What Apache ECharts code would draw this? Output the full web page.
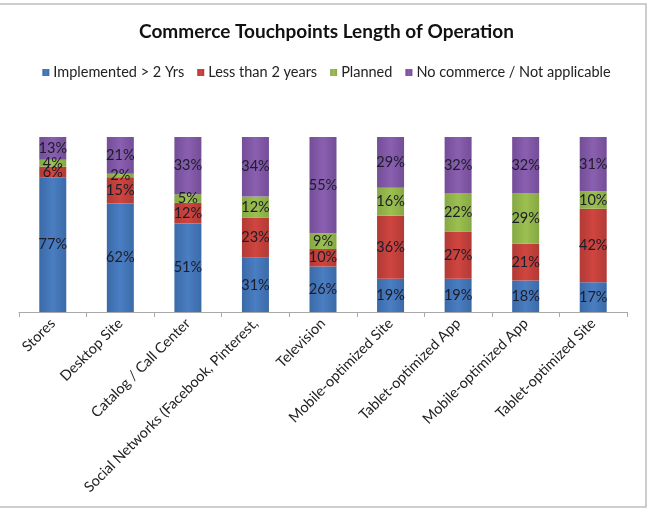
<!DOCTYPE html>
<html lang="en">
<head>
    <meta charset="UTF-8">
    <title>Commerce Touchpoints</title>
    <script type="text/javascript" src="https://cdn.jsdelivr.net/npm/echarts@6/dist/echarts.min.js"></script>
    <style>
        html, body { margin: 0; padding: 0; background: #fff; }
        #main { width: 653px; height: 510px; }
    </style>
</head>
<body>
<div id="main"></div>
<script type="text/javascript">
    // categories and values (percent)
    var categories = ['Stores', 'Desktop Site', 'Catalog / Call Center', 'Social Networks (Facebook, Pinterest,',
        'Television', 'Mobile-optimized Site', 'Tablet-optimized App', 'Mobile-optimized App', 'Tablet-optimized Site'];
    var implemented = [77, 62, 51, 31, 26, 19, 19, 18, 17];
    var lessThan2 = [6, 15, 12, 23, 10, 36, 27, 21, 42];
    var planned = [4, 2, 5, 12, 9, 16, 22, 29, 10];
    var noCommerce = [13, 21, 33, 34, 55, 29, 32, 32, 31];

    var seriesNames = ['Implemented > 2 Yrs', 'Less than 2 years', 'Planned', 'No commerce / Not applicable'];
    var seriesData = [implemented, lessThan2, planned, noCommerce];
    var baseColors = ['#4a7ec2', '#d0453f', '#9cc050', '#8a5fb0'];
    var edgeColors = ['#3b6aa8', '#b23a35', '#86a844', '#744e98'];

    // totals per category so every bar fills 100%
    var totals = categories.map(function (c, i) {
        var s = 0;
        for (var k = 0; k < seriesData.length; k++) s += seriesData[k][i];
        return s;
    });

    var myChart = echarts.init(document.getElementById('main'));

    var series = seriesNames.map(function (name, k) {
        return {
            name: name,
            type: 'bar',
            stack: 'total',
            barWidth: 27,
            data: seriesData[k].map(function (v, i) {
                return v / totals[i] * 100;
            }),
            itemStyle: {
                color: new echarts.graphic.LinearGradient(0, 0, 1, 0, [
                    { offset: 0, color: edgeColors[k] },
                    { offset: 0.5, color: baseColors[k] },
                    { offset: 1, color: edgeColors[k] }
                ])
            },
            label: {
                show: true,
                position: 'inside',
                color: '#1c1c2a',
                fontFamily: 'Lato',
                fontSize: 14.5,
                formatter: function (p) { return seriesData[k][p.dataIndex] + '%'; }
            }
        };
    });

    var option = {
        animation: false,
        color: baseColors,
        title: {
            text: 'Commerce Touchpoints Length of Operation',
            left: 'center',
            top: 17,
            textStyle: { fontFamily: 'Lato', fontSize: 19, fontWeight: 'bold', color: '#111' }
        },
        legend: {
            data: seriesNames,
            top: 60,
            left: 'center',
            itemWidth: 7,
            itemHeight: 7,
            itemGap: 13,
            icon: 'rect',
            textStyle: { fontFamily: 'Lato', fontSize: 14.5, color: '#222', padding: [0, 0, 0, -1] }
        },
        grid: {
            left: 19,
            right: 26,
            top: 137,
            bottom: 198,
            containLabel: false
        },
        xAxis: {
            type: 'category',
            data: categories,
            axisLine: { lineStyle: { color: '#aaa' } },
            axisTick: { show: true, length: 5, lineStyle: { color: '#aaa' } },
            axisLabel: {
                rotate: 45,
                interval: 0,
                color: '#222',
                fontFamily: 'Lato',
                fontSize: 14.5,
                margin: 9
            }
        },
        yAxis: {
            type: 'value',
            min: 0,
            max: 100,
            show: false
        },
        graphic: [{
            type: 'rect',
            shape: { x: -2, y: 4, width: 648, height: 503 },
            style: { fill: 'none', stroke: '#bdbdbd', lineWidth: 1.5 },
            silent: true
        }],
        series: series
    };
    myChart.setOption(option);
</script>
</body>
</html>
